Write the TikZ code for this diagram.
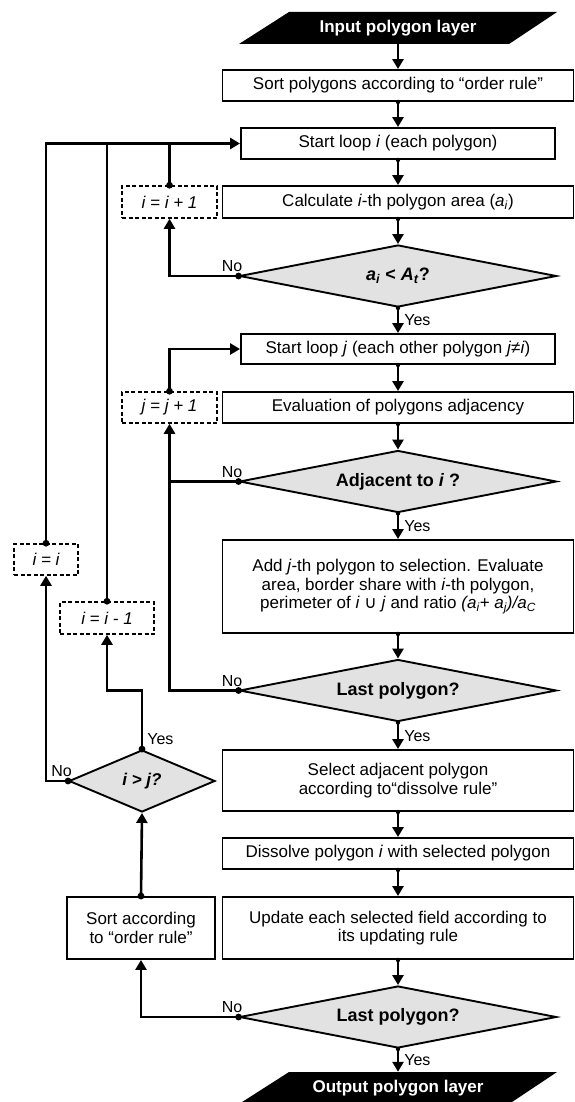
\documentclass[tikz,border=0pt]{standalone}
\usepackage{fontspec}
\setmainfont{Liberation Sans}
\newfontfamily\symbfont{DejaVu Sans}
\usepackage{tikz}
\usetikzlibrary{shapes.geometric,arrows.meta}

\definecolor{condgray}{RGB}{226,226,226}
\newcommand{\flowsize}{\fontsize{17}{18.5}\selectfont}

\tikzset{
	procbox/.style={draw, line width=1.9pt, align=center, inner sep=2pt, minimum height=31pt, font=\flowsize},
	widebox/.style={procbox, minimum width=351pt},
	loopbox/.style={procbox, minimum width=314pt},
	varbox/.style={procbox, dash pattern=on 4pt off 2.5pt, line width=1.5pt, font=\flowsize\itshape},
	decision/.style={diamond, draw, line width=1.9pt, fill=condgray, inner sep=0pt, aspect=5.1, minimum width=317pt, minimum height=62pt, font=\fontsize{18}{20}\selectfont\bfseries},
	iobox/.style={minimum width=318pt, minimum height=32pt, inner sep=0pt, text=white, font=\flowsize\bfseries,
		path picture={\fill (path picture bounding box.south west) -- ([xshift=270pt]path picture bounding box.south west)
			-- (path picture bounding box.north east) -- ([xshift=-268pt]path picture bounding box.north east) -- cycle;}},
	flowarrow/.style={line width=2.6pt, -{Triangle[length=10pt,width=11pt]}},
	joinline/.style={line width=2.6pt},
	lbl/.style={font=\fontsize{16}{18}\selectfont, inner sep=1pt},
	yeslbl/.style={lbl, right, xshift=4pt},
	nolbl/.style={lbl, anchor=south east, xshift=6pt, yshift=2pt}
}

\begin{document}
\begin{tikzpicture}[x=1pt, y=-1pt]
	\useasboundingbox (0,0) rectangle (574,1102);

	% main column
	\node[iobox] (input) at (398,28) {Input polygon layer};
	\node[widebox] (sortall) at (398,85.5) {Sort polygons according to “order rule”};
	\node[loopbox] (loopi) at (398,143.5) {Start loop \textit{i} (each polygon)};
	\node[widebox, minimum height=32pt] (area) at (398,202) {Calculate \textit{i}-th polygon area (\textit{a}\textsubscript{\textit{i}})};
	\node[decision] (small) at (398,276) {\textit{a}\textsubscript{\textit{i}} < \textit{A}\textsubscript{\textit{t}}?};
	\node[loopbox, minimum height=30pt] (loopj) at (398,349) {Start loop \textit{j} (each other polygon \textit{j}≠\textit{i})};
	\node[widebox] (adjeval) at (398,407.5) {Evaluation of polygons adjacency};
	\node[decision] (adjacent) at (398,481.5) {Adjacent to \textit{i} ?};
	\node[widebox, minimum height=93pt] (addsel) at (398,586.5) {Add \textit{j}-th polygon to selection. Evaluate\\
		area, border share with \textit{i}-th polygon,\\
		perimeter of \textit{i} {\symbfont ∪} \textit{j} and ratio \textit{(a\textsubscript{i}+ a\textsubscript{j})/a\textsubscript{C}}};
	\node[decision] (lastj) at (398,690.5) {Last polygon?};
	\node[widebox, minimum height=61pt] (select) at (398,780.5) {Select adjacent polygon\\ according to“dissolve rule”};
	\node[widebox] (dissolve) at (398,853.5) {Dissolve polygon \textit{i} with selected polygon};
	\node[widebox, minimum height=62pt] (update) at (398,928) {Update each selected field according to\\ its updating rule};
	\node[decision] (lasti) at (398,1017) {Last polygon?};
	\node[iobox] (output) at (398,1088) {Output polygon layer};

	% counters and side column
	\node[varbox, minimum width=95pt, minimum height=32pt] (inci) at (169.5,202) {i = i + 1};
	\node[varbox, minimum width=95pt] (incj) at (169.5,407.5) {j = j + 1};
	\node[varbox, minimum width=64pt] (keepi) at (46,559.5) {i = i};
	\node[varbox, minimum width=94pt, minimum height=32pt] (deci) at (107,618) {i = i - 1};
	\node[decision, aspect=2.35, minimum width=146pt, font=\flowsize\bfseries\itshape] (iandj) at (142,781) {i > j?};
	\node[procbox, minimum width=148pt, minimum height=62pt] (resort) at (141,928) {Sort according\\ to “order rule”};

	% main flow
	\foreach \a/\b in {input/sortall, sortall/loopi, loopi/area, area/small, loopj/adjeval, adjeval/adjacent,
			addsel/lastj, select/dissolve, dissolve/update, update/lasti}
		\draw[flowarrow] (\a) -- (\b);
	\draw[flowarrow] (small) -- node[yeslbl] (yes1) {Yes} (loopj);
	\draw[flowarrow] (adjacent) -- node[yeslbl] (yes2) {Yes} (addsel);
	\draw[flowarrow] (lastj) -- node[yeslbl] (yes3) {Yes} (select);
	\draw[flowarrow] (lasti) -- node[yeslbl] (yes4) {Yes} (output);

	% loops back
	\draw[flowarrow] (small.west) node[nolbl] (no1) {No} -| (inci.south);
	\draw[joinline] (inci.north) -- (inci.north |- loopi.west);
	\draw[flowarrow] (incj.north) |- (loopj.west);
	\draw[joinline] (adjacent.west) node[nolbl] (no2) {No} -- (adjacent.west -| incj.south);
	\draw[flowarrow] (lastj.west) node[nolbl] (no3) {No} -| (incj.south);
	\draw[flowarrow] (lasti.west) node[nolbl] (no4) {No} -| (resort.south);
	\draw[flowarrow] (resort.north) -- (iandj.south);
	\draw[flowarrow] (iandj.north) node[lbl, anchor=south west, xshift=3pt, yshift=2pt] (yes5) {Yes}
		-- (iandj.north |- lastj.west) -| (deci.south);
	\draw[flowarrow] (iandj.west) node[nolbl] (no5) {No} -| (keepi.south);
	\draw[joinline] (deci.north) -- (deci.north |- loopi.west);
	\draw[flowarrow] (keepi.north) |- (loopi.west);

	% dots
	\foreach \n in {sortall, loopi, area, small, loopj, adjeval, adjacent, addsel, lastj, select, dissolve, update, lasti}
		\fill (\n.south) circle (2.2pt);
	\foreach \n in {small.west, adjacent.west, lastj.west, lasti.west, iandj.west, iandj.north,
			keepi.north, deci.north, inci.north, incj.north, resort.north}
		\fill (\n) circle (3.4pt);
\end{tikzpicture}
\end{document}
